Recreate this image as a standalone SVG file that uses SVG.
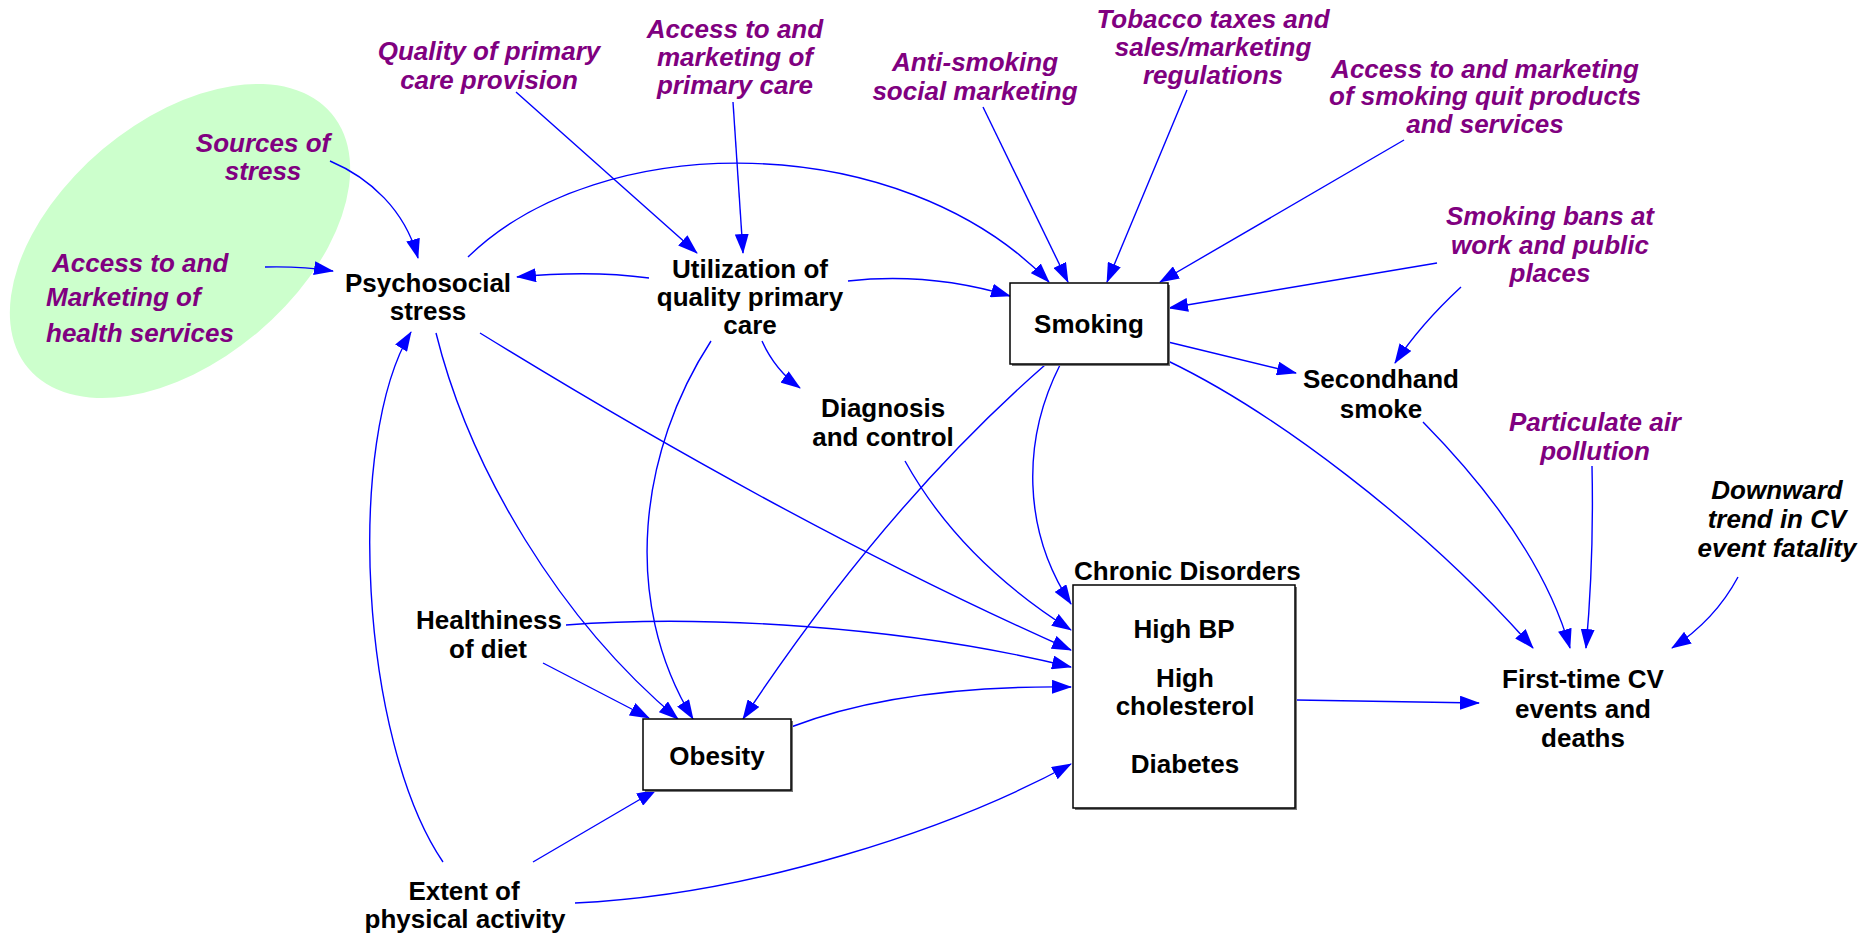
<svg xmlns="http://www.w3.org/2000/svg" width="1873" height="937" viewBox="0 0 1873 937">
  <defs>
    <marker id="arrow" markerUnits="userSpaceOnUse" viewBox="0 0 20 14" markerWidth="20" markerHeight="14" refX="19" refY="7" orient="auto">
      <path d="M0,0 L20,7 L0,14 z" fill="#0000FF"/>
    </marker>
  </defs>
  <style>
    text { font-family: "Liberation Sans", Arial, sans-serif; font-size: 26px; font-weight: bold; text-anchor: middle; }
    .ext { fill: #800080; font-style: italic; }
    .var { fill: #000000; }
    .ital { font-style: italic; }
    .box { fill: #FFFFFF; stroke: #000000; stroke-width: 1.5; }
    .shadow { fill: #777777; }
    .conn path { fill: none; stroke: #0000FF; stroke-width: 1.4; marker-end: url(#arrow); }
  </style>

  <!-- highlighted cluster -->
  <ellipse id="cluster" cx="180" cy="241" rx="198" ry="120" transform="rotate(-40 180 241)" fill="#CCFFCC"/>

  <!-- connectors -->
  <g id="connectors" class="conn">
    <path d="M330,161 C370,178 405,210 418,258"/>
    <path d="M265,267 Q300,266 333,271"/>
    <path d="M649,278 Q590,270 517,277"/>
    <path d="M468,257 C600,128 900,128 1049,282"/>
    <path d="M848,281 Q930,272 1010,296"/>
    <path d="M516,92 L697,253"/>
    <path d="M733,102 L743,253"/>
    <path d="M983,107 L1068,282"/>
    <path d="M1187,90 L1107,282"/>
    <path d="M1404,140 L1160,282"/>
    <path d="M1437,263 L1169,308"/>
    <path d="M1461,287 Q1420,325 1395,363"/>
    <path d="M1168,342 L1296,373"/>
    <path d="M762,341 Q775,370 800,388"/>
    <path d="M1168,361 C1270,410 1420,520 1533,648"/>
    <path d="M1423,422 C1480,480 1545,560 1570,648"/>
    <path d="M1592,466 Q1594,560 1586,648"/>
    <path d="M1738,577 Q1715,620 1672,648"/>
    <path d="M1296,700 L1479,703"/>
    <path d="M480,333 Q800,530 1071,650"/>
    <path d="M436,333 C470,470 560,620 678,719"/>
    <path d="M711,341 C640,450 620,600 693,719"/>
    <path d="M1045,365 Q885,505 743,719"/>
    <path d="M1060,365 C1022,440 1022,530 1071,604"/>
    <path d="M905,461 Q960,560 1071,630"/>
    <path d="M566,625 C700,615 900,625 1071,667"/>
    <path d="M543,663 L649,718"/>
    <path d="M791,727 Q900,685 1071,687"/>
    <path d="M533,862 L656,790"/>
    <path d="M575,903 C750,895 950,830 1071,764"/>
    <path d="M443,862 C360,740 345,440 411,332"/>
  </g>

  <!-- external influences -->
  <g id="sources-of-stress">
    <text class="ext" x="263" y="152">Sources of</text>
    <text class="ext" x="263" y="180">stress</text>
  </g>
  <g id="access-health-services">
    <text class="ext" x="52" y="272" style="text-anchor:start">Access to and</text>
    <text class="ext" x="46" y="306" style="text-anchor:start">Marketing of</text>
    <text class="ext" x="46" y="342" style="text-anchor:start">health services</text>
  </g>
  <g id="quality-primary-care">
    <text class="ext" x="489" y="60">Quality of primary</text>
    <text class="ext" x="489" y="89">care provision</text>
  </g>
  <g id="access-primary-care">
    <text class="ext" x="735" y="38">Access to and</text>
    <text class="ext" x="735" y="66">marketing of</text>
    <text class="ext" x="735" y="94">primary care</text>
  </g>
  <g id="anti-smoking">
    <text class="ext" x="975" y="71">Anti-smoking</text>
    <text class="ext" x="975" y="100">social marketing</text>
  </g>
  <g id="tobacco-taxes">
    <text class="ext" x="1213" y="28">Tobacco taxes and</text>
    <text class="ext" x="1213" y="56">sales/marketing</text>
    <text class="ext" x="1213" y="84">regulations</text>
  </g>
  <g id="quit-products">
    <text class="ext" x="1485" y="78">Access to and marketing</text>
    <text class="ext" x="1485" y="105">of smoking quit products</text>
    <text class="ext" x="1485" y="133">and services</text>
  </g>
  <g id="smoking-bans">
    <text class="ext" x="1550" y="225">Smoking bans at</text>
    <text class="ext" x="1550" y="254">work and public</text>
    <text class="ext" x="1550" y="282">places</text>
  </g>
  <g id="air-pollution">
    <text class="ext" x="1595" y="431">Particulate air</text>
    <text class="ext" x="1595" y="460">pollution</text>
  </g>
  <g id="fatality-trend">
    <text class="var ital" x="1777" y="499">Downward</text>
    <text class="var ital" x="1777" y="528">trend in CV</text>
    <text class="var ital" x="1777" y="557">event fatality</text>
  </g>

  <!-- model variables -->
  <g id="psychosocial-stress">
    <text class="var" x="428" y="292">Psychosocial</text>
    <text class="var" x="428" y="320">stress</text>
  </g>
  <g id="utilization">
    <text class="var" x="750" y="278">Utilization of</text>
    <text class="var" x="750" y="306">quality primary</text>
    <text class="var" x="750" y="334">care</text>
  </g>
  <g id="smoking">
    <rect class="shadow" x="1012" y="285" width="158" height="81"/>
    <rect class="box" x="1010" y="283" width="158" height="81"/>
    <text class="var" x="1089" y="333">Smoking</text>
  </g>
  <g id="secondhand-smoke">
    <text class="var" x="1381" y="388">Secondhand</text>
    <text class="var" x="1381" y="418">smoke</text>
  </g>
  <g id="diagnosis">
    <text class="var" x="883" y="417">Diagnosis</text>
    <text class="var" x="883" y="446">and control</text>
  </g>
  <g id="diet">
    <text class="var" x="489" y="629">Healthiness</text>
    <text class="var" x="488" y="658">of diet</text>
  </g>
  <g id="obesity">
    <rect class="shadow" x="645" y="721" width="148" height="71"/>
    <rect class="box" x="643" y="719" width="148" height="71"/>
    <text class="var" x="717" y="765">Obesity</text>
  </g>
  <g id="physical-activity">
    <text class="var" x="464" y="900">Extent of</text>
    <text class="var" x="465" y="928">physical activity</text>
  </g>
  <g id="chronic-disorders">
    <text class="var" x="1074" y="580" style="text-anchor:start">Chronic Disorders</text>
    <rect class="shadow" x="1075" y="587" width="222" height="223"/>
    <rect class="box" x="1073" y="585" width="222" height="223"/>
    <text class="var" x="1184" y="638">High BP</text>
    <text class="var" x="1185" y="687">High</text>
    <text class="var" x="1185" y="715">cholesterol</text>
    <text class="var" x="1185" y="773">Diabetes</text>
  </g>
  <g id="cv-events">
    <text class="var" x="1583" y="688">First-time CV</text>
    <text class="var" x="1583" y="718">events and</text>
    <text class="var" x="1583" y="747">deaths</text>
  </g>
</svg>
